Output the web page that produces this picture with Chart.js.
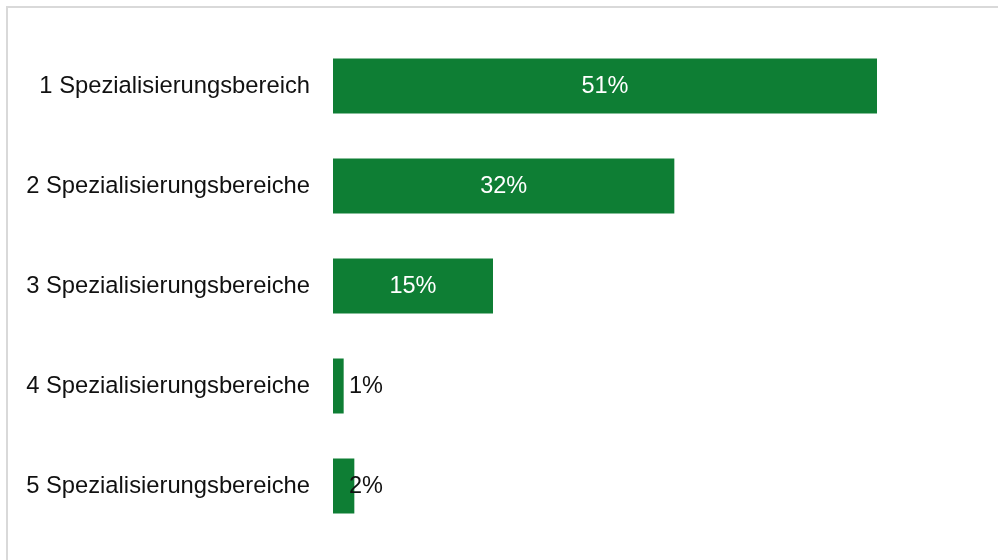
<!DOCTYPE html>
<html><head><meta charset="utf-8">
<script src="https://cdn.jsdelivr.net/npm/chart.js@4/dist/chart.umd.min.js"></script>
<style>
html,body{margin:0;padding:0;background:#fff;}
#wrap{position:relative;width:998px;height:560px;overflow:hidden;}
#frame{position:absolute;left:6px;top:6px;width:1100px;height:700px;border-top:2px solid #d9d9d9;border-left:2px solid #d9d9d9;box-sizing:border-box;}
canvas{position:absolute;left:0;top:0;}
</style></head>
<body><div id="wrap"><div id="frame"></div><canvas id="c" width="998" height="560"></canvas></div>
<script>
const categories = ["1 Spezialisierungsbereich","2 Spezialisierungsbereiche","3 Spezialisierungsbereiche","4 Spezialisierungsbereiche","5 Spezialisierungsbereiche"];
const values = [51, 32, 15, 1, 2];
const valueLabels = ["51%","32%","15%","1%","2%"];
const barColor = "#0e7e34";

const labelPlugin = {
  id: 'vlabels',
  afterDatasetsDraw(chart){
    const ctx = chart.ctx;
    const meta = chart.getDatasetMeta(0);
    const xs = chart.scales.x;
    ctx.save();
    ctx.font = '23.5px "Liberation Sans", Arial, sans-serif';
    ctx.textBaseline = 'middle';
    meta.data.forEach((bar,i)=>{
      const v = values[i];
      if (v >= 5) {
        ctx.fillStyle = '#ffffff';
        ctx.textAlign = 'center';
        ctx.fillText(valueLabels[i], (bar.x + bar.base)/2, bar.y+1);
      } else {
        ctx.fillStyle = '#111111';
        ctx.textAlign = 'left';
        ctx.fillText(valueLabels[i], xs.getPixelForValue(0) + 16, bar.y+1);
      }
    });
    ctx.restore();
  }
};

new Chart(document.getElementById('c'), {
  type: 'bar',
  data: { labels: categories, datasets: [{ data: values, backgroundColor: barColor, borderWidth: 0, categoryPercentage: 1.0, barPercentage: 0.55 }] },
  options: {
    indexAxis: 'y',
    responsive: false,
    animation: false,
    layout: { padding: { top: 36, bottom: 24, left: 0, right: 25 } },
    plugins: { legend: { display: false }, tooltip: { enabled: false } },
    scales: {
      x: { display: false, min: 0, max: 60 },
      y: {
        grid: { display: false, drawTicks: true, tickLength: 23, tickColor: 'rgba(0,0,0,0)' },
        border: { display: false },
        ticks: { color: '#111111', padding: 0, font: { size: 23.75, family: '"Liberation Sans", Arial, sans-serif' } },
        afterFit(scale){ scale.width = 333; }
      }
    }
  },
  plugins: [labelPlugin]
});
</script></body></html>
